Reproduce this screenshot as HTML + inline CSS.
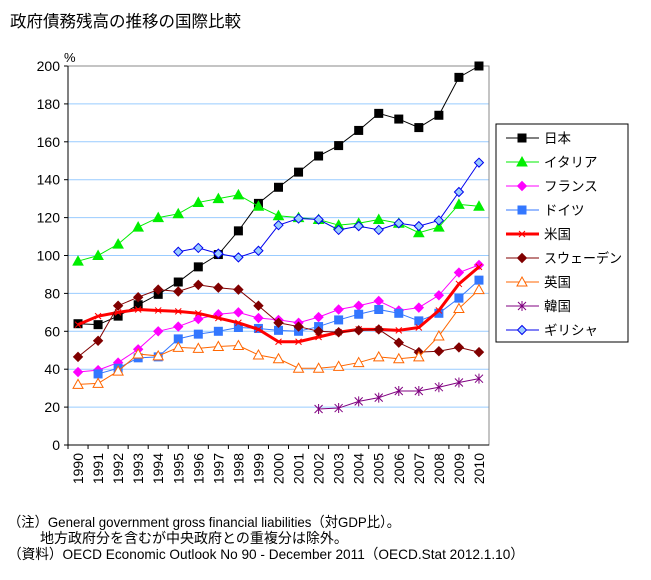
<!DOCTYPE html>
<html><head><meta charset="utf-8">
<style>
body{margin:0;background:#fff;width:651px;height:575px;overflow:hidden;font-family:"Liberation Sans","Noto Sans CJK JP",sans-serif;}
svg text{font-family:"Liberation Sans","Noto Sans CJK JP",sans-serif;}
</style></head><body>
<svg id="c" width="651" height="575" xmlns="http://www.w3.org/2000/svg">
<text x="10" y="27" font-size="16.5">政府債務残高の推移の国際比較</text>
<text x="64" y="62" font-size="13">%</text>
<g id="grid"></g><g id="axes"></g><g id="series"></g><g id="legend"></g>
<text x="8" y="527" font-size="14" textLength="392" lengthAdjust="spacingAndGlyphs">（注）General government gross financial liabilities（対GDP比）。</text>
<text x="40" y="543" font-size="14">地方政府分を含むが中央政府との重複分は除外。</text>
<text x="8" y="559" font-size="14" textLength="516" lengthAdjust="spacingAndGlyphs">（資料）OECD Economic Outlook No 90 - December 2011（OECD.Stat 2012.1.10）</text>
</svg>
<script>
const years=[1990,1991,1992,1993,1994,1995,1996,1997,1998,1999,2000,2001,2002,2003,2004,2005,2006,2007,2008,2009,2010];
const yTicks=[0,20,40,60,80,100,120,140,160,180,200];
const names=["日本","イタリア","フランス","ドイツ","米国","スウェーデン","英国","韓国","ギリシャ"];
const japan=[64,63.5,68,74,79.5,86,94,100.5,113,127.5,136,144,152.5,158,166,175,172,167.5,174,194,200];
const italy=[97,100,106,115,120,122,128,130,132,126,121,120,119,116,117,119,117,112,115,127,126];
const france=[38.5,39.5,43.5,50.5,60,62.5,66.5,69,70,67,66,64.5,67.5,71.5,73.5,76,71,72.5,79,91,95];
const germany=[null,37.5,40.5,46,46.5,56,58.5,60,62,61.5,60.5,60,62.5,66,69,71.5,69.5,65.5,69.5,77.5,87];
const usa=[63.5,68,70,71.5,71,70.5,69.5,67,64.5,61,54.5,54.5,57,59.5,61,61,60.5,62,71,85,94];
const sweden=[46.5,55,73.5,78,82,81,84.5,83,82,73.5,64.5,62.5,60,59.5,60.5,61,54,49,49.5,51.5,49];
const uk=[32,32.5,39,48,47,51.5,51,52,52.5,47.5,45.5,40.5,40.5,41.5,43.5,46.5,45.5,46.5,57.5,72,82];
const korea=[null,null,null,null,null,null,null,null,null,null,null,null,19,19.5,23,25,28.5,28.5,30.5,33,35];
const greece=[null,null,null,null,null,102,104,101,99,102.5,116,119.5,119,113.5,115.5,113.5,117,115.5,118.5,133.5,149];
const NS="http://www.w3.org/2000/svg";
const L=68,R=489,T=66,B=445,YMAX=200;
const cw=(R-L)/years.length;
function xs(i){return L+cw*(i+0.5);}
function ys(v){return B-(v/YMAX)*(B-T);}
function mk(t,a,p){const e=document.createElementNS(NS,t);for(const k in a)e.setAttribute(k,a[k]);p.appendChild(e);return e;}
const grid=document.getElementById('grid'),axes=document.getElementById('axes'),ser=document.getElementById('series'),leg=document.getElementById('legend');
yTicks.forEach(v=>{
 if(v>0&&v<200){const g=mk('line',{x1:L,x2:R,y1:ys(v),y2:ys(v),stroke:'#99ccff','stroke-width':1},grid);
 }
 const t=mk('text',{x:L-8,y:ys(v)+5,'font-size':14,'text-anchor':'end'},axes);t.textContent=v;
 
 const tk=mk('line',{x1:L-4,x2:L,y1:ys(v),y2:ys(v),stroke:'#000'},axes);
 
});
const fr=mk('rect',{x:L,y:T,width:R-L,height:B-T,fill:'none',stroke:'#888'},axes);

const ya=mk('line',{x1:L,x2:L,y1:T,y2:B,stroke:'#000'},axes);
const xa=mk('line',{x1:L,x2:R,y1:B,y2:B,stroke:'#000'},axes);
years.forEach((y,i)=>{
 const tk=mk('line',{x1:L+cw*i,x2:L+cw*i,y1:B,y2:B+4,stroke:'#000'},axes);
 
 const t=mk('text',{x:0,y:0,'font-size':14,'text-anchor':'end',transform:`translate(${xs(i)+5},${B+8}) rotate(-90)`},axes);t.textContent=y;
 
});
const styles=[
 {d:japan,c:'#000',w:1,m:'sq',f:'#000'},
 {d:italy,c:'#00ee00',w:1,m:'tri',f:'#00ee00'},
 {d:france,c:'#ff00ff',w:1,m:'dia',f:'#ff00ff'},
 {d:germany,c:'#3377ff',w:1,m:'sq',f:'#3377ff'},
 {d:usa,c:'#ff0000',w:3,m:'x',f:'#ff0000'},
 {d:sweden,c:'#800000',w:1,m:'dia',f:'#800000'},
 {d:uk,c:'#ff6600',w:1,m:'tri',f:'#fff'},
 {d:korea,c:'#800080',w:1,m:'star',f:'#800080'},
 {d:greece,c:'#0000ee',w:1,m:'dia',f:'#99ccff'}
];
function marker(s,x,y,p){
 let e;
 if(s.m==='sq')e=mk('rect',{x:x-4,y:y-4,width:8,height:8,fill:s.f,stroke:s.c},p);
 else if(s.m==='tri')e=mk('polygon',{points:`${x},${y-5} ${x+5},${y+4} ${x-5},${y+4}`,fill:s.f,stroke:s.c},p);
 else if(s.m==='dia')e=mk('polygon',{points:`${x},${y-4.5} ${x+4.5},${y} ${x},${y+4.5} ${x-4.5},${y}`,fill:s.f,stroke:s.c},p);
 else if(s.m==='x')e=mk('path',{d:`M${x-3},${y-3}L${x+3},${y+3}M${x+3},${y-3}L${x-3},${y+3}`,stroke:s.c,'stroke-width':1},p);
 else e=mk('path',{d:`M${x-4},${y-4}L${x+4},${y+4}M${x+4},${y-4}L${x-4},${y+4}M${x},${y-5}L${x},${y+5}`,stroke:s.c,'stroke-width':1},p);
 return e;
}
styles.forEach((s,k)=>{
 const g=mk('g',{},ser);
 let pts=[];s.d.forEach((v,i)=>{if(v!=null)pts.push([xs(i),ys(v)]);});
 const ln=mk('polyline',{points:pts.map(p=>p.join(',')).join(' '),fill:'none',stroke:s.c,'stroke-width':s.w},g);
 
 pts.forEach(p=>{const m=marker(s,p[0],p[1],g);});
 const ly=138+k*24;
 const lg=mk('g',{},leg);
 mk('line',{x1:506,x2:539,y1:ly,y2:ly,stroke:s.c,'stroke-width':s.w},lg);
 marker(s,522,ly,lg);
 const t=mk('text',{x:544,y:ly+5,'font-size':13.5},lg);t.textContent=names[k];
 if(names[k].length>4){t.setAttribute('textLength','78');t.setAttribute('lengthAdjust','spacingAndGlyphs');}
});
const lb=mk('rect',{x:496,y:124,width:132,height:218,fill:'none',stroke:'#000'},leg);

</script>
</body></html>
